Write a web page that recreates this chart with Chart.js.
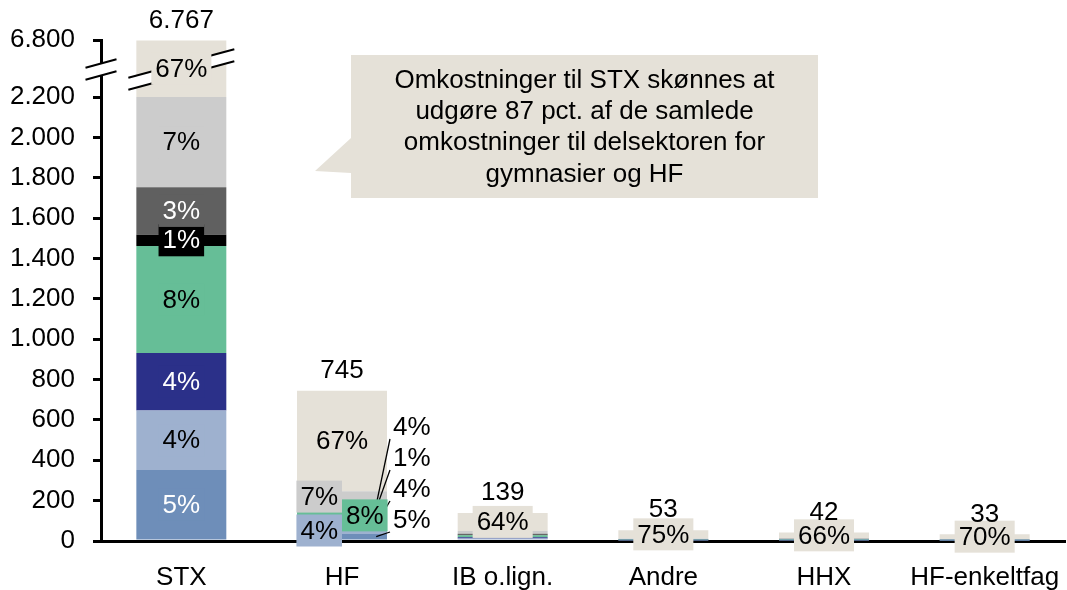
<!DOCTYPE html>
<html><head><meta charset="utf-8">
<script src="https://cdn.jsdelivr.net/npm/chart.js@4.4.1/dist/chart.umd.min.js"></script>
<style>html,body{margin:0;padding:0;background:#fff;}#wrap{position:relative;width:1067px;height:590px;}</style>
</head><body><div id="wrap"><canvas id="c"></canvas></div>
<script>
// ---- data ----
const categories = ['STX', 'HF', 'IB o.lign.', 'Andre', 'HHX', 'HF-enkeltfag'];
const steelBlue = [352, 37, 7, 2, 2, 1.5];
const lightBlue = [295, 30, 6, 2, 2, 1.5];
const navy      = [285, 30, 5, 1, 1.2, 1];
const green     = [530, 60, 11, 3, 3, 2];
const black     = [56, 7, 2, 0.5, 0.5, 0.5];
const darkGray  = [235, 30, 5, 1.5, 2, 1];
const lightGray = [452, 52, 14, 3, 3.5, 2.5];
const beige     = [4562, 499, 89, 40, 27.8, 23];
const yTickValues = [0, 200, 400, 600, 800, 1000, 1200, 1400, 1600, 1800, 2000, 2200, 6800];
const breakFrom = 2200, breakTo = 6800;
const calloutLines = ['Omkostninger til STX skønnes at', 'udgøre 87 pct. af de samlede', 'omkostninger til delsektoren for', 'gymnasier og HF'];

// ---- styling ----
const series = [steelBlue, lightBlue, navy, green, black, darkGray, lightGray, beige];
const colors = ['#6E8EB9', '#9EB1CF', '#2B3089', '#66BE97', '#000000', '#606060', '#CCCCCC', '#E5E1D8'];
const textColors = ['#fff', '#000', '#fff', '#000', '#fff', '#fff', '#000', '#000'];
// label placement per category: c=centered, l=left half, r=right half, o=outside with leader, null=none
const placements = [
  ['c','c','c','c','c','c','c','c'],
  ['o','l','o','r','o','o','l','c'],
  [null,null,null,null,null,null,null,'c'],
  [null,null,null,null,null,null,null,'c'],
  [null,null,null,null,null,null,null,'c'],
  [null,null,null,null,null,null,null,'c']
];
const FONT = '"Liberation Sans", Arial, sans-serif';
const FS = 26;
const K = 0.0614; // compression above the axis break
const T = v => v <= breakFrom ? v : breakFrom + (v - breakFrom) * K;
const fmt = v => String(Math.round(v)).replace(/\B(?=(\d{3})+(?!\d))/g, '.');

const totals = categories.map((c, j) => series.reduce((s, a) => s + a[j], 0));
const displayData = series.map(() => []);
categories.forEach((c, j) => {
  let cum = 0;
  series.forEach((a, i) => { displayData[i][j] = T(cum + a[j]) - T(cum); cum += a[j]; });
});

Chart.defaults.font.family = FONT;
Chart.defaults.font.size = FS;
Chart.defaults.color = '#000';

function drawBreak(ctx, cx, cy, hw) {
  const s = 0.27, g = 6;
  ctx.save();
  ctx.beginPath();
  ctx.moveTo(cx - hw, cy - g + s * hw);
  ctx.lineTo(cx + hw, cy - g - s * hw);
  ctx.lineTo(cx + hw, cy + g - s * hw);
  ctx.lineTo(cx - hw, cy + g + s * hw);
  ctx.closePath();
  ctx.fillStyle = '#fff'; ctx.fill();
  ctx.strokeStyle = '#000'; ctx.lineWidth = 2;
  ctx.beginPath();
  ctx.moveTo(cx - hw, cy - g + s * hw); ctx.lineTo(cx + hw, cy - g - s * hw);
  ctx.moveTo(cx - hw, cy + g + s * hw); ctx.lineTo(cx + hw, cy + g - s * hw);
  ctx.stroke();
  ctx.restore();
}

function boxLabel(ctx, text, x, y, bg, fg) {
  const w = ctx.measureText(text).width + 8, h = 32;
  ctx.fillStyle = bg;
  ctx.fillRect(x - w / 2, y - h / 2, w, h);
  ctx.fillStyle = fg;
  ctx.fillText(text, x, y + 1);
  return w;
}

const overlay = {
  id: 'overlay',
  afterDraw(chart) {
    const ctx = chart.ctx, yS = chart.scales.y, area = chart.chartArea;
    const metas = series.map((a, i) => chart.getDatasetMeta(i));
    ctx.save();
    ctx.font = FS + 'px ' + FONT;
    ctx.textBaseline = 'middle';
    ctx.textAlign = 'center';
    // axis breaks
    const yb = (yS.getPixelForValue(T(breakFrom)) + yS.getPixelForValue(T(breakTo))) / 2 + 1;
    drawBreak(ctx, area.left, yb, 15.5);
    const topBar = metas[series.length - 1].data[0];
    drawBreak(ctx, topBar.x, yb, topBar.width / 2 + 8);
    // labels
    categories.forEach((c, j) => {
      const tot = totals[j];
      let k = 0;
      series.forEach((a, i) => {
        if (placements[j][i] !== 'o') return;
        const bar = metas[i].data[j];
        const lx = bar.x + bar.width / 2 + 6;
        const ly = area.bottom - 21 - k * 31;
        k++;
        ctx.strokeStyle = '#000'; ctx.lineWidth = 1.3;
        ctx.beginPath();
        ctx.moveTo(lx - 3, ly + 12);
        ctx.lineTo(bar.x + bar.width * 0.38, (bar.y + bar.base) / 2);
        ctx.stroke();
        ctx.fillStyle = '#000'; ctx.textAlign = 'left';
        ctx.fillText(Math.round(a[j] / tot * 100) + '%', lx, ly + 1);
        ctx.textAlign = 'center';
      });
      series.forEach((a, i) => {
        const p = placements[j][i];
        if (!p || p === 'o') return;
        const bar = metas[i].data[j];
        const text = Math.round(a[j] / tot * 100) + '%';
        const w = ctx.measureText(text).width + 8;
        let x = bar.x;
        if (p === 'l') x = bar.x - w / 2;
        if (p === 'r') x = bar.x + w / 2;
        boxLabel(ctx, text, x, (bar.y + bar.base) / 2, colors[i], textColors[i]);
      });
      const top = metas[series.length - 1].data[j];
      ctx.fillStyle = '#000';
      ctx.fillText(fmt(tot), top.x, top.y - 20);
    });
    // callout
    const bx = 351, by = 55, bw = 467, bh = 143;
    ctx.fillStyle = '#E5E1D8';
    ctx.beginPath();
    ctx.moveTo(bx, by); ctx.lineTo(bx + bw, by); ctx.lineTo(bx + bw, by + bh); ctx.lineTo(bx, by + bh);
    ctx.lineTo(bx, 173); ctx.lineTo(315, 171); ctx.lineTo(bx, 138); ctx.closePath();
    ctx.fill();
    ctx.fillStyle = '#000';
    const lh = 31.3, cy = by + bh / 2 + 1;
    calloutLines.forEach((t, i) => ctx.fillText(t, bx + bw / 2, cy + (i - (calloutLines.length - 1) / 2) * lh));
    ctx.restore();
  }
};

new Chart(document.getElementById('c'), {
  type: 'bar',
  data: {
    labels: categories,
    datasets: series.map((a, i) => ({
      data: displayData[i], backgroundColor: colors[i], borderWidth: 0,
      stack: 's', barPercentage: 0.56, categoryPercentage: 1
    }))
  },
  options: {
    responsive: true, maintainAspectRatio: false, animation: false,
    layout: { padding: { top: 40, right: 2, left: 0, bottom: 0 } },
    plugins: { legend: { display: false }, tooltip: { enabled: false } },
    scales: {
      x: {
        stacked: true, z: 1,
        grid: { display: false, drawTicks: false },
        border: { display: true, color: '#000', width: 3 },
        ticks: { padding: 21, color: '#000', font: { size: FS } },
        afterFit(s) { s.height = 49; s.paddingLeft = 0; s.paddingRight = 0; }
      },
      y: {
        stacked: true, z: 1, min: 0, max: T(breakTo),
        afterBuildTicks(s) { s.ticks = yTickValues.map(v => ({ value: T(v) })); },
        grid: { drawOnChartArea: false, drawTicks: true, tickLength: 8, color: '#000', lineWidth: 3 },
        border: { display: true, color: '#000', width: 3 },
        ticks: { padding: 18, color: '#000', font: { size: FS }, callback: (v, idx) => fmt(yTickValues[idx]) },
        afterFit(s) { s.width = 101; }
      }
    }
  },
  plugins: [overlay]
});
</script></body></html>
